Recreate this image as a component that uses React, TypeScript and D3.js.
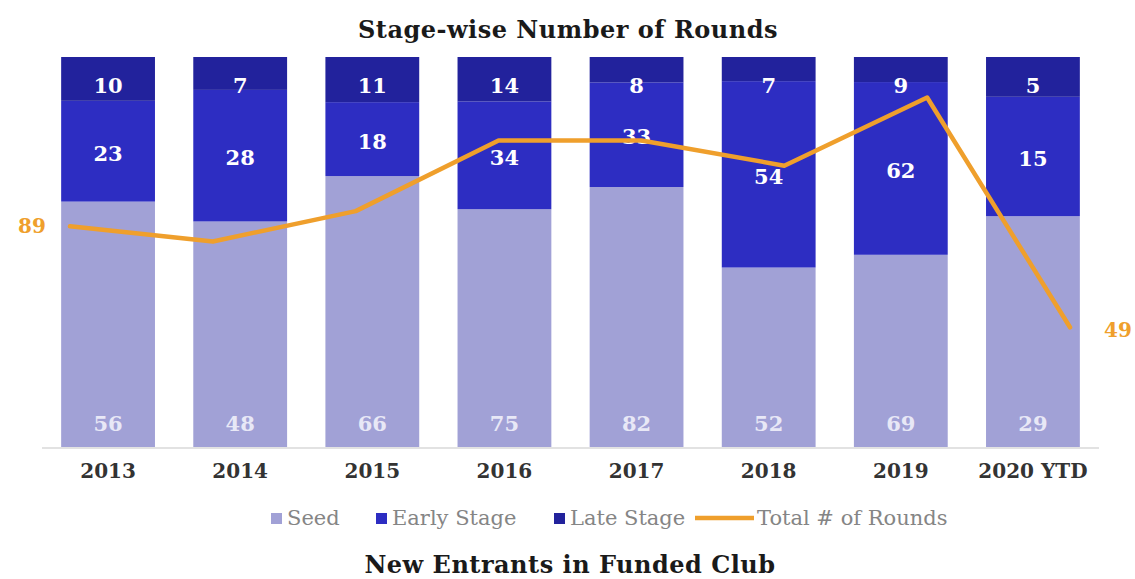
import React from 'react';
import * as d3 from 'd3';

const years = ['2013', '2014', '2015', '2016', '2017', '2018', '2019', '2020 YTD'];
const seed = [56, 48, 66, 75, 82, 52, 69, 29];
const early = [23, 28, 18, 34, 33, 54, 62, 15];
const late = [10, 7, 11, 14, 8, 7, 9, 5];
const totals = [89, 83, 95, 123, 123, 113, 140, 49];

const stageKeys = ['seed', 'early', 'late'];
const stageNames = ['Seed', 'Early Stage', 'Late Stage'];
const stageColors = ['#a1a1d6', '#2d2dc2', '#22229c'];
const lineColor = '#ef9f2c';

const width = 1135;
const height = 579;
const font = '"DejaVu Serif", "Liberation Serif", serif';

const App = () => {
  const rows = years.map((year, i) => ({ year, seed: seed[i], early: early[i], late: late[i] }));

  const stacked = d3.stack<any>().keys(stageKeys).offset(d3.stackOffsetExpand)(rows);

  const x = d3.scaleBand()
    .domain(years)
    .range([42, 1099])
    .paddingInner(0.29)
    .paddingOuter(0.145);

  const y = d3.scaleLinear().domain([0, 1]).range([447, 57]);

  // the total line sits on its own axes (slightly offset from the bars)
  const xLine = d3.scalePoint().domain(years).range([70, 1070]);
  const yLine = d3.scaleLinear().domain([0, 160]).range([451, 47]);

  const line = d3.line<number>()
    .x((_, i) => xLine(years[i]) as number)
    .y(d => yLine(d));

  const labelY = (layer: number, d: any) => {
    if (layer === 0) return y(0) - 24;
    if (layer === 2) return y(1) + 28;
    return (y(d[0]) + y(d[1])) / 2 + 2;
  };

  const legend = [
    { name: stageNames[0], color: stageColors[0], x: 271 },
    { name: stageNames[1], color: stageColors[1], x: 376 },
    { name: stageNames[2], color: stageColors[2], x: 554 },
  ];

  return (
    <svg width={width} height={height} style={{ position: 'absolute', left: 0, top: 0, background: '#fff' }}
      fontFamily={font}>
      <text x={568} y={29} textAnchor="middle" dominantBaseline="central" fontWeight="bold"
        fontSize={24} letterSpacing={0.5} fill="#1a1a1a">Stage-wise Number of Rounds</text>

      {stacked.map((layer, li) => (
        <g key={layer.key} fill={stageColors[li]}>
          {layer.map((d, i) => (
            <rect key={i} x={x(years[i])} width={x.bandwidth()}
              y={y(d[1])} height={y(d[0]) - y(d[1])} />
          ))}
        </g>
      ))}

      <line x1={42} x2={1099} y1={448} y2={448} stroke="#d9d9d9" strokeWidth={1.5} />

      {stacked.map((layer, li) => (
        <g key={'l' + layer.key} fontWeight="bold" fontSize={21} textAnchor="middle"
          fill={li === 0 ? '#e8e8f6' : '#ffffff'}>
          {layer.map((d, i) => (
            <text key={i} x={(x(years[i]) as number) + x.bandwidth() / 2} y={labelY(li, d)}
              dominantBaseline="central">{(rows[i] as any)[layer.key]}</text>
          ))}
        </g>
      ))}

      <path d={line(totals) as string} fill="none" stroke={lineColor} strokeWidth={4.5}
        strokeLinejoin="round" strokeLinecap="round" />
      <text x={xLine(years[0])! - 38} y={yLine(totals[0])} textAnchor="middle" dominantBaseline="central"
        fontWeight="bold" fontSize={20} fill={lineColor}>{totals[0]}</text>
      <text x={xLine(years[7])! + 48} y={yLine(totals[7]) + 3} textAnchor="middle" dominantBaseline="central"
        fontWeight="bold" fontSize={20} fill={lineColor}>{totals[7]}</text>

      <g fontWeight="bold" fontSize={20} fill="#333" textAnchor="middle">
        {years.map(yr => (
          <text key={yr} x={(x(yr) as number) + x.bandwidth() / 2} y={471} dominantBaseline="central">{yr}</text>
        ))}
      </g>

      <g fontSize={21} fill="#858585">
        {legend.map(l => (
          <g key={l.name}>
            <rect x={l.x} y={513} width={11} height={11} fill={l.color} />
            <text x={l.x + 16} y={518} dominantBaseline="central">{l.name}</text>
          </g>
        ))}
        <line x1={695} x2={754} y1={518} y2={518} stroke={lineColor} strokeWidth={4.5} />
        <text x={757} y={518} dominantBaseline="central">Total # of Rounds</text>
      </g>

      <text x={570} y={564} textAnchor="middle" dominantBaseline="central" fontWeight="bold"
        fontSize={24} letterSpacing={0.5} fill="#1a1a1a">New Entrants in Funded Club</text>
    </svg>
  );
};

export default App;
